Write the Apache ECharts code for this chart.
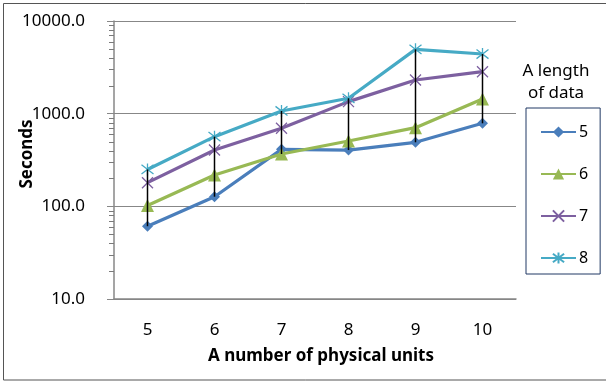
<!DOCTYPE html>
<html><head><meta charset="utf-8">
<script src="https://cdn.jsdelivr.net/npm/echarts@6/dist/echarts.min.js"></script>
<style>html,body{margin:0;padding:0;background:#fff}#c{width:606px;height:381px}</style>
</head><body><div id="c"></div>
<script>
// ---- data ----
const categories = ['5', '6', '7', '8', '9', '10'];
const seriesNames = ['5', '6', '7', '8'];
const len5 = [61, 127, 412, 405, 491, 787];
const len6 = [102, 218, 367, 507, 706, 1439];
const len7 = [180, 405, 695, 1349, 2307, 2838];
const len8 = [250, 565, 1069, 1466, 4945, 4403];
const minorTickValues = [20, 30, 40, 50, 60, 70, 80, 90,
  200, 300, 400, 500, 600, 700, 800, 900,
  2000, 3000, 4000, 5000, 6000, 7000, 8000, 9000];
const legendTitle = ['A length', 'of data'];

// ---- styling ----
const FONT = "'Noto Sans', sans-serif";
const AXIS = '#878787';
const GRID = {left: 114, right: 90, top: 21, bottom: 82};
const colors = ['#4A7EBB', '#98B954', '#7D60A0', '#46AAC5'];
const allSeries = [len5, len6, len7, len8];

const xPath = 'path://M0 0L10 10M10 0L0 10';
const starPath = 'path://M0 0L10 10M10 0L0 10M5 -1.5L5 11.5';

const hiLo = categories.map((c, i) => {
  const vals = allSeries.map(s => s[i]);
  return [i, Math.min(...vals), Math.max(...vals)];
});

const chart = echarts.init(document.getElementById('c'), null, {renderer: 'canvas'});
const symbolDefs = [
  {symbol: 'diamond', size: 11, fill: true},
  {symbol: 'triangle', size: 13, fill: true},
  {symbol: xPath, size: 11, fill: false},
  {symbol: starPath, size: 12, fill: false}
];

const lineSeries = seriesNames.map((n, k) => ({
  name: n,
  type: 'line',
  data: allSeries[k],
  symbol: symbolDefs[k].symbol,
  symbolSize: symbolDefs[k].size,
  showSymbol: true,
  lineStyle: {color: colors[k], width: 3.2},
  itemStyle: symbolDefs[k].fill
    ? {color: colors[k], borderWidth: 0}
    : {color: 'rgba(0,0,0,0)', borderColor: colors[k], borderWidth: 1.3},
  z: 2 + k,
  animation: false
}));

const baseGraphic = [
  {type: 'rect', shape: {x: 3.5, y: 3.5, width: 620, height: 376.5}, style: {fill: 'none', stroke: '#555', lineWidth: 1}, silent: true},
  {type: 'text', x: 556, y: 71, style: {text: legendTitle[0], fontSize: 17, fontFamily: FONT, fill: '#000', textAlign: 'center', textVerticalAlign: 'middle'}},
  {type: 'text', x: 556, y: 93, style: {text: legendTitle[1], fontSize: 17, fontFamily: FONT, fill: '#000', textAlign: 'center', textVerticalAlign: 'middle'}}
];

chart.setOption({
  animation: false,
  textStyle: {fontFamily: FONT},
  grid: Object.assign({containLabel: false, outerBoundsMode: 'none'}, GRID),
  xAxis: {
    type: 'category',
    data: categories,
    boundaryGap: true,
    axisLine: {lineStyle: {color: AXIS, width: 1.5}},
    axisTick: {show: false},
    axisLabel: {margin: 23, fontSize: 17, color: '#000', fontFamily: FONT},
    name: 'A number of physical units',
    nameLocation: 'middle',
    nameGap: 49,
    nameMoveOverlap: false,
    nameTextStyle: {fontWeight: 'bold', fontSize: 17, color: '#000', fontFamily: FONT, padding: [0, 0, 0, 12]}
  },
  yAxis: {
    type: 'log',
    logBase: 10,
    min: 10,
    max: 10000,
    interval: 1,
    axisLine: {show: true, lineStyle: {color: AXIS, width: 1.5}},
    axisTick: {show: true, length: 7, lineStyle: {color: AXIS, width: 1}},
    splitLine: {show: true, lineStyle: {color: AXIS, width: 1}},
    axisLabel: {margin: 29, fontSize: 17, color: '#000', fontFamily: FONT,
      formatter: v => Number(v).toFixed(1)},
    name: 'Seconds',
    nameLocation: 'middle',
    nameGap: 78,
    nameMoveOverlap: false,
    nameTextStyle: {fontWeight: 'bold', fontSize: 17, color: '#000', fontFamily: FONT, padding: [0, 0, 0, 12]}
  },
  legend: {
    data: seriesNames,
    orient: 'vertical',
    left: 526,
    top: 108,
    padding: [16, 12, 8, 14],
    itemGap: 26,
    itemWidth: 35,
    itemHeight: 14,
    borderColor: '#203864',
    borderWidth: 1,
    borderRadius: 0,
    textStyle: {fontSize: 16, color: '#000', fontFamily: FONT, padding: [0, 0, 0, -2]}
  },
  graphic: baseGraphic,
  series: [
    ...lineSeries,
    {
      type: 'custom',
      name: 'hilo',
      data: hiLo,
      encode: {x: 0, y: [1, 2]},
      z: 10,
      silent: true,
      renderItem: (params, api) => {
        const i = api.value(0);
        const lo = api.coord([i, api.value(1)]);
        const hi = api.coord([i, api.value(2)]);
        return {type: 'line', shape: {x1: lo[0], y1: lo[1], x2: hi[0], y2: hi[1]}, style: {stroke: '#000', lineWidth: 1.5}};
      }
    }
  ]
});

// minor log ticks, positioned through the y axis scale
const axisX = GRID.left;
const minorGraphic = minorTickValues.map(v => {
  const y = Math.round(chart.convertToPixel({yAxisIndex: 0}, v)) + 0.5;
  return {type: 'line', silent: true, z: 100, shape: {x1: axisX - 5, y1: y, x2: axisX, y2: y}, style: {stroke: '#7a7a7a', lineWidth: 1}};
});
chart.setOption({graphic: baseGraphic.concat(minorGraphic)});
</script>
</body></html>
